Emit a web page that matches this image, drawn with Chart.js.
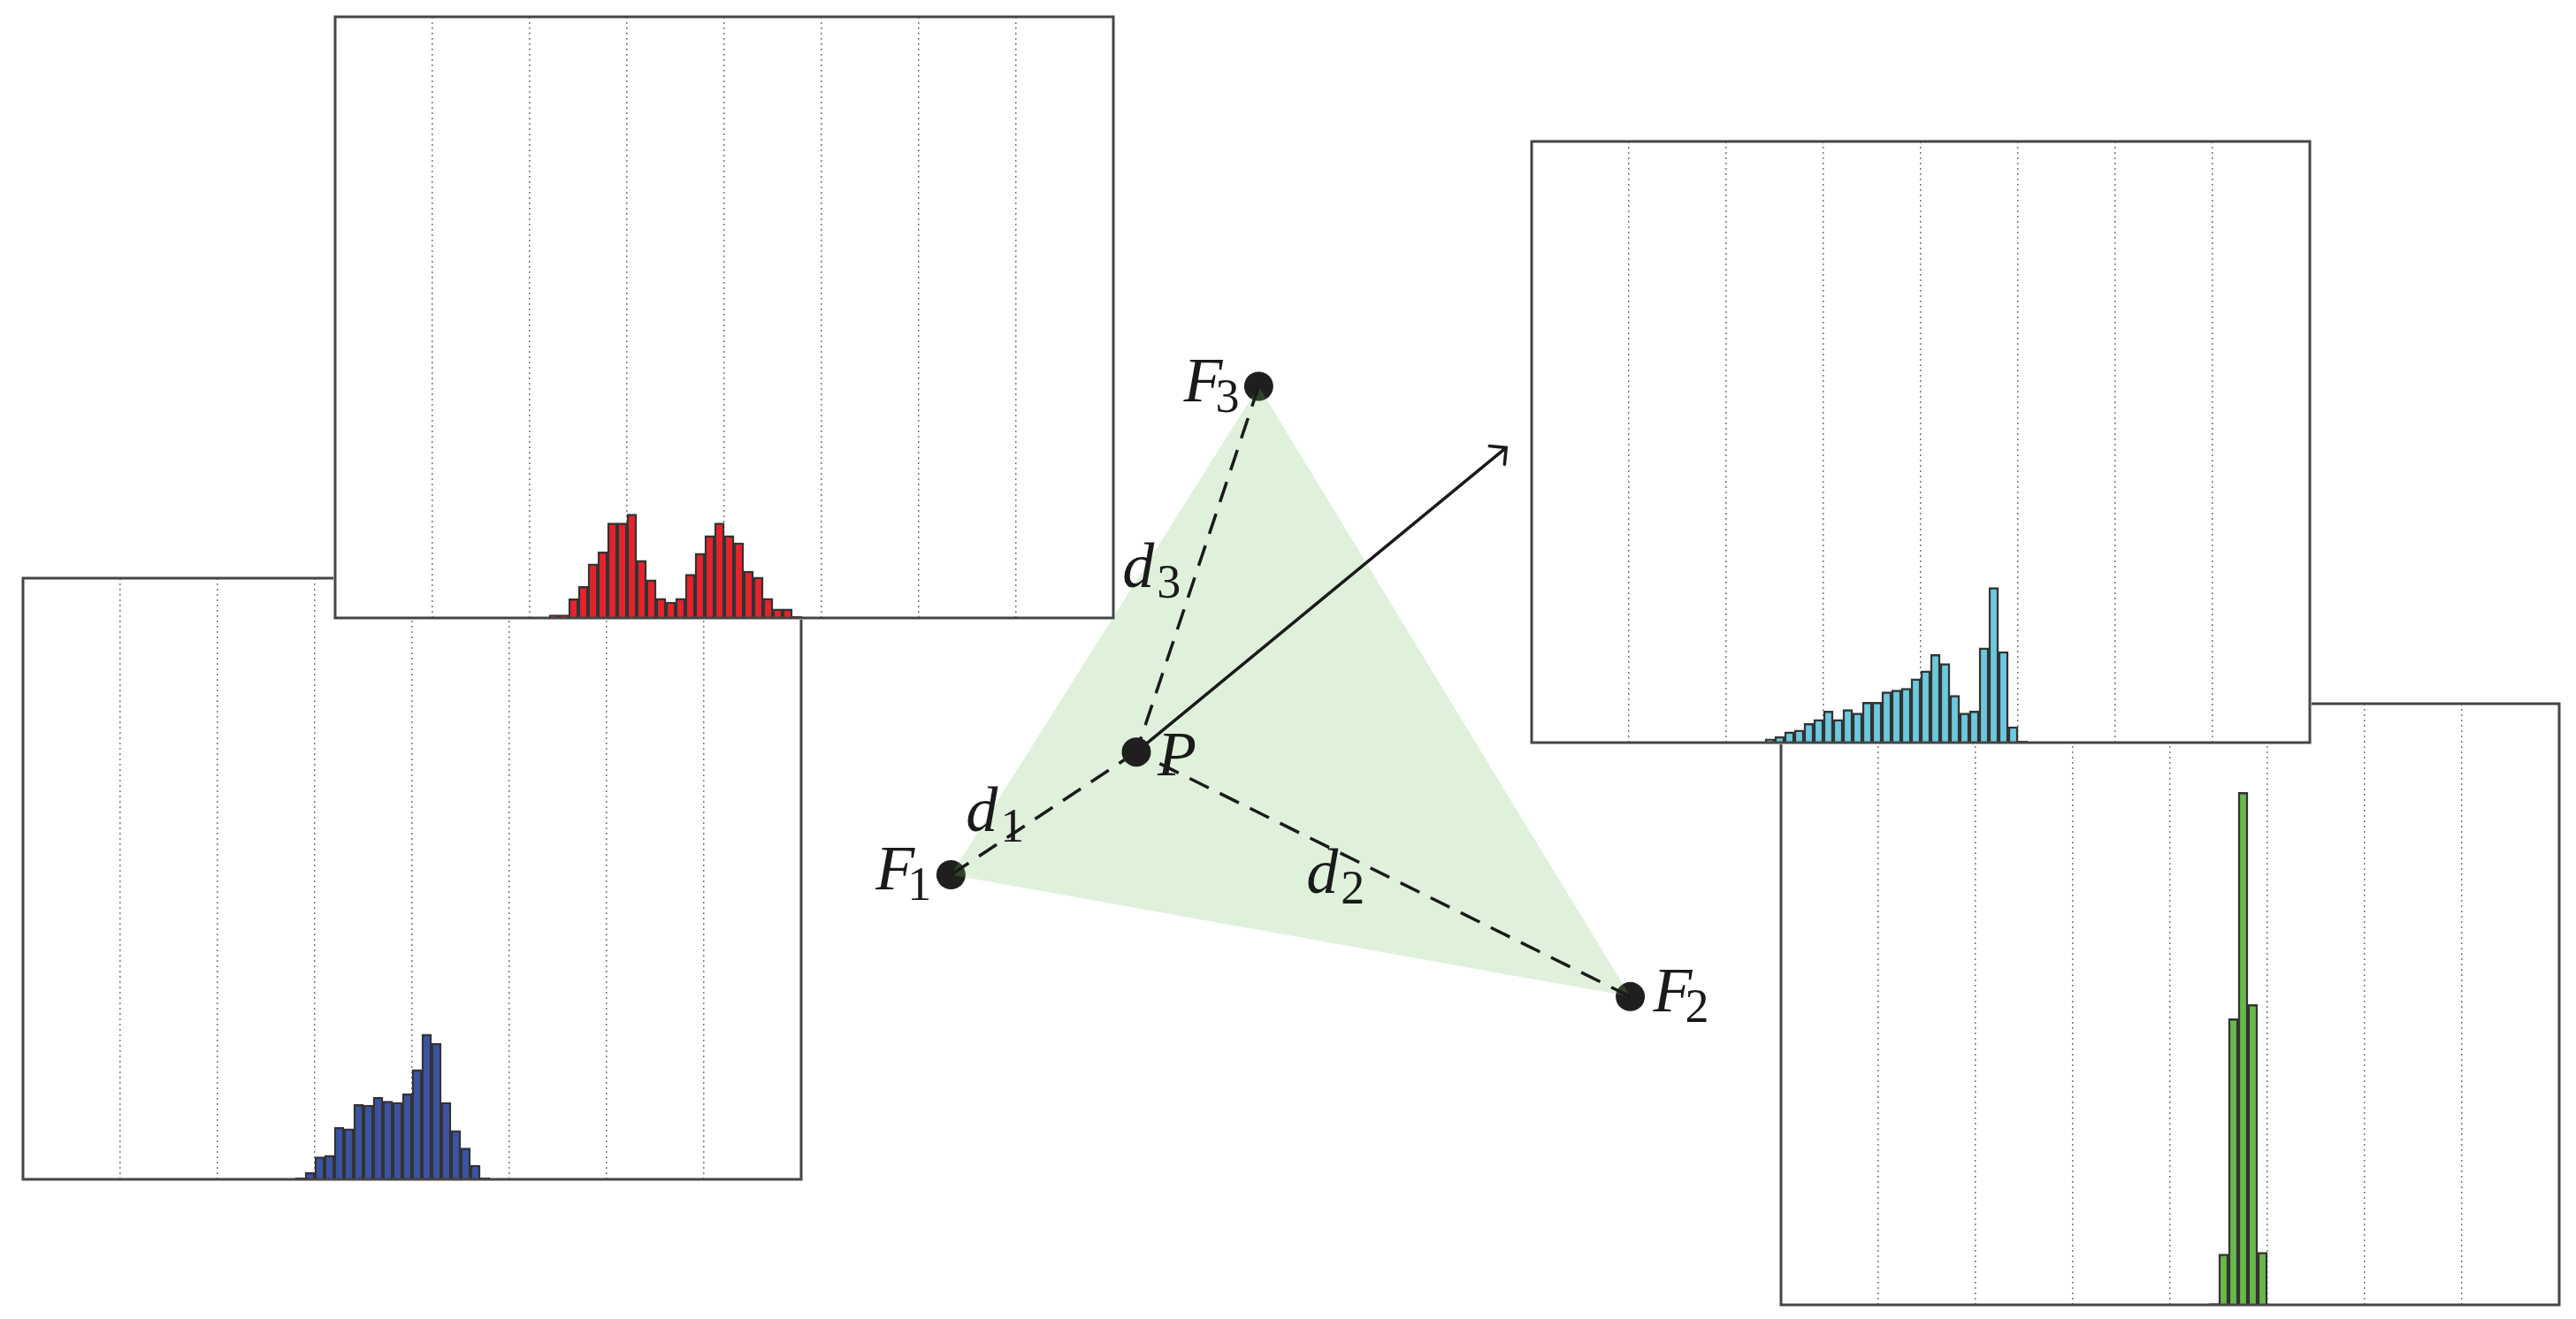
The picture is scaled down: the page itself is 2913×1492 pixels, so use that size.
<!DOCTYPE html>
<html lang="en">
<head>
<meta charset="UTF-8">
<title>Position estimate from three sources</title>
<script src="https://cdn.jsdelivr.net/npm/chart.js"></script>
<style>
    html, body {
        margin: 0;
        padding: 0;
        background: #fff;
    }
    body {
        position: relative;
        width: 2913px;
        height: 1492px;
        overflow: hidden;
    }
    #diagram {
        position: absolute;
        left: 0;
        top: 0;
    }
    .panel {
        position: absolute;
        background: #fff;
    }
</style>
</head>
<body>
<canvas id="diagram" width="2913" height="1492"></canvas>
<div class="panel" style="left:24px;top:652px;z-index:1"><canvas id="blueChart" width="884" height="684"></canvas></div>
<div class="panel" style="left:377px;top:17px;z-index:2"><canvas id="redChart" width="884" height="684"></canvas></div>
<div class="panel" style="left:2012px;top:794px;z-index:1"><canvas id="greenChart" width="884" height="684"></canvas></div>
<div class="panel" style="left:1730px;top:158px;z-index:2"><canvas id="cyanChart" width="884" height="684"></canvas></div>

<script>
    // histogram bins: every panel shows 80 bins, counts start at the given bin
    const binCount = 80;
    const countMax = 200;

    const redStart = 22;
    const redCounts = [1, 1, 6.4, 10.5, 18, 22, 31.6, 31.6, 34.5, 19.2, 12.7, 6.5, 5.3,
                       6.5, 14.5, 21.5, 27.4, 31.6, 27.4, 25, 15.6, 13.6, 6.5, 3, 3, 0.5];

    const blueStart = 28;
    const blueCounts = [0.5, 2.3, 7.5, 8, 17.3, 16.8, 24.9, 24.7, 27.3, 26,
                        25.6, 28.5, 36.5, 48.3, 45.3, 25.6, 16.2, 10.4, 4.7, 0.5];

    const cyanStart = 24;
    const cyanCounts = [1.2, 2, 3.6, 4.2, 6.4, 7.7, 10.5, 7.7, 11, 9.8, 13.4, 13.4, 16.9, 17.5,
                        18.1, 21.2, 23.9, 29.3, 26.3, 15.7, 9.8, 10.5, 31.5, 51.6, 30.3, 5.3, 0.6];

    const greenStart = 44;
    const greenCounts = [0.4, 16.9, 95.2, 170.5, 99.9, 17.5];

    // diagram: three sources F1..F3, estimated point P, direction arrow
    const focusLabels = ['1', '2', '3'];
    const focusX = [10.71, 18.48, 14.23];
    const focusY = [4.97, 3.56, 10.62];
    const pointP = [12.83, 6.39];
    const arrowTip = [17.06, 9.91];

    const frame = {
        id: 'frame',
        afterDatasetsDraw(chart) {
            const { ctx, chartArea: a } = chart;
            ctx.save();
            ctx.strokeStyle = '#454545';
            ctx.lineWidth = 3;
            ctx.strokeRect(a.left, a.top, a.right - a.left, a.bottom - a.top);
            ctx.restore();
        }
    };

    function histogram(id, start, counts, color) {
        const bins = counts.map((c, i) => ({ x: start + i + 0.5, y: c }));
        return new Chart(document.getElementById(id), {
            type: 'bar',
            data: {
                datasets: [{
                    data: bins,
                    backgroundColor: color,
                    borderColor: '#333',
                    borderWidth: 2.5,
                    barPercentage: 1,
                    categoryPercentage: 1
                }]
            },
            options: {
                responsive: false,
                animation: false,
                layout: { padding: 2 },
                plugins: { legend: { display: false }, tooltip: { enabled: false } },
                scales: {
                    x: {
                        type: 'linear',
                        min: 0,
                        max: binCount,
                        offset: false,
                        ticks: { display: false, stepSize: 10 },
                        grid: {
                            offset: false,
                            drawTicks: false,
                            lineWidth: 1.5,
                            color: c => (c.tick && (c.tick.value === 0 || c.tick.value === binCount)) ? 'rgba(0,0,0,0)' : '#777'
                        },
                        border: { display: false, dash: [2, 4] }
                    },
                    y: { display: false, min: 0, max: countMax }
                }
            },
            plugins: [frame]
        });
    }

    histogram('blueChart', blueStart, blueCounts, '#3a53a3');
    histogram('redChart', redStart, redCounts, '#e8212b');
    histogram('greenChart', greenStart, greenCounts, '#68b948');
    histogram('cyanChart', cyanStart, cyanCounts, '#6cc9de');

    const P = { x: pointP[0], y: pointP[1] };
    const tip = { x: arrowTip[0], y: arrowTip[1] };
    const foci = focusX.map((x, i) => ({ x: x, y: focusY[i] }));

    const arrowHead = {
        id: 'arrowHead',
        afterDatasetsDraw(chart) {
            const { ctx, scales: { x, y } } = chart;
            const x0 = x.getPixelForValue(P.x), y0 = y.getPixelForValue(P.y);
            const x1 = x.getPixelForValue(tip.x), y1 = y.getPixelForValue(tip.y);
            const a = Math.atan2(y1 - y0, x1 - x0);
            const len = 19, spread = Math.PI / 4;
            ctx.save();
            ctx.strokeStyle = '#1a1a1a';
            ctx.lineWidth = 3.5;
            ctx.lineCap = 'round';
            ctx.beginPath();
            ctx.moveTo(x1 + len * Math.cos(a + Math.PI - spread), y1 + len * Math.sin(a + Math.PI - spread));
            ctx.lineTo(x1, y1);
            ctx.lineTo(x1 + len * Math.cos(a + Math.PI + spread), y1 + len * Math.sin(a + Math.PI + spread));
            ctx.stroke();
            ctx.restore();
        }
    };

    function mathText(ctx, main, sub, left, base, subDx) {
        ctx.font = 'italic 72px "Liberation Serif", "DejaVu Serif", serif';
        ctx.fillText(main, left, base);
        if (sub) {
            ctx.font = '54px "Liberation Serif", "DejaVu Serif", serif';
            ctx.fillText(sub, left + subDx, base + 12);
        }
    }

    const mathLabels = {
        id: 'mathLabels',
        afterDraw(chart) {
            const { ctx, scales: { x, y } } = chart;
            const px = v => x.getPixelForValue(v);
            const py = v => y.getPixelForValue(v);
            const fOffsets = [[-85, 17], [26, 17], [-85, 17]];
            const dOffsets = [[-88, 20], [-87, 21], [-85, 20]];
            ctx.save();
            ctx.fillStyle = '#1a1a1a';
            ctx.textAlign = 'left';
            ctx.textBaseline = 'alphabetic';
            foci.forEach((f, i) => {
                mathText(ctx, 'F', focusLabels[i], px(f.x) + fOffsets[i][0], py(f.y) + fOffsets[i][1], 36);
                const mx = (px(f.x) + px(P.x)) / 2, my = (py(f.y) + py(P.y)) / 2;
                mathText(ctx, 'd', focusLabels[i], mx + dOffsets[i][0], my + dOffsets[i][1], 39);
            });
            mathText(ctx, 'P', '', px(P.x) + 24, py(P.y) + 26, 0);
            ctx.restore();
        }
    };

    new Chart(document.getElementById('diagram'), {
        type: 'scatter',
        data: {
            datasets: [
                {
                    data: [P],
                    pointRadius: 16.5,
                    pointBackgroundColor: '#1f1f1f',
                    pointBorderWidth: 0,
                    order: 0
                },
                {
                    data: [P, tip],
                    showLine: true,
                    borderColor: '#1a1a1a',
                    borderWidth: 3.5,
                    pointRadius: 0,
                    order: 1
                },
                ...foci.map(f => ({
                    data: [f, P],
                    showLine: true,
                    borderColor: '#1a1a1a',
                    borderWidth: 3.5,
                    borderDash: [24, 14],
                    pointRadius: 0,
                    order: 2
                })),
                {
                    data: foci,
                    showLine: true,
                    fill: 'shape',
                    backgroundColor: 'rgba(111,191,90,0.22)',
                    borderColor: 'rgba(0,0,0,0)',
                    borderWidth: 0,
                    pointRadius: 0,
                    order: 3
                },
                {
                    data: foci,
                    pointRadius: 16.5,
                    pointBackgroundColor: '#1f1f1f',
                    pointBorderWidth: 0,
                    order: 4
                }
            ]
        },
        options: {
            responsive: false,
            animation: false,
            layout: { padding: 0 },
            plugins: { legend: { display: false }, tooltip: { enabled: false } },
            scales: {
                x: { display: false, min: 0, max: 29.13 },
                y: { display: false, min: 0, max: 14.92 }
            }
        },
        plugins: [arrowHead, mathLabels]
    });
</script>
</body>
</html>
